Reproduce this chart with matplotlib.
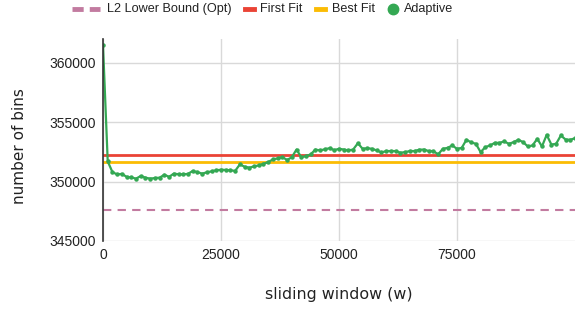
import numpy as np
import matplotlib.pyplot as plt
from matplotlib.lines import Line2D

plt.rcParams.update({'font.family': ['Liberation Sans', 'DejaVu Sans'], 'font.size': 10})

C_OPT, C_FF, C_BF, C_AD = '#c27ba0', '#ea4335', '#fbbc04', '#34a853'
W, H = 575, 316

window = np.arange(0, 100001, 1000)
adaptive = [
    361500, 351700, 350800, 350600, 350650, 350400, 350350, 350250, 350470, 350330,
    350250, 350300, 350330, 350580, 350400, 350670, 350620, 350610, 350650, 350890,
    350800, 350670, 350780, 350860, 350950, 351000, 350980, 350950, 350900, 351450,
    351250, 351170, 351280, 351360, 351500, 351640, 351870, 351950, 352060, 351820,
    352050, 352700, 352050, 352140, 352290, 352700, 352620, 352720, 352810, 352650,
    352760, 352700, 352620, 352700, 353230, 352760, 352810, 352760, 352620, 352450,
    352570, 352570, 352570, 352430, 352480, 352570, 352570, 352680, 352700, 352570,
    352570, 352290, 352760, 352840, 353040, 352760, 352840, 353520, 353300, 353180,
    352480, 352900, 353040, 353260, 353260, 353380, 353180, 353320, 353520, 353320,
    352960, 353040, 353600, 352960, 353930, 353120, 353180, 353880, 353540, 353520,
    353650,
]
first_fit = 352230
best_fit = 351640
l2_bound = 347600

xticks = [0, 25000, 50000, 75000]
yticks = [345000, 350000, 355000, 360000]
labels = ['L2 Lower Bound (Opt)', 'First Fit', 'Best Fit', 'Adaptive']

fig = plt.figure(figsize=(W / 100, H / 100), dpi=100)
ax = fig.add_axes([103 / W, 75 / H, 472 / W, 202 / H])

ax.axhline(l2_bound, color=C_OPT, lw=1.5, ls=(0, (4, 3)))
ax.axhline(first_fit, color=C_FF, lw=2)
ax.axhline(best_fit, color=C_BF, lw=2)
ax.plot(window, adaptive, color=C_AD, lw=1.6, marker='o', ms=2.2)

ax.set_xlim(0, 100000)
ax.set_ylim(345000, 362000)
ax.set_xticks(xticks)
ax.set_xticklabels([str(v) for v in xticks])
ax.set_yticks(yticks)
ax.set_yticklabels([str(v) for v in yticks])
ax.tick_params(length=0, labelsize=10, colors='#222222', pad=5)
ax.grid(True, color='#d9d9d9', lw=1)
ax.set_axisbelow(True)
for s in ['top', 'right', 'bottom']:
    ax.spines[s].set_visible(False)
ax.spines['left'].set_color('#333333')
ax.spines['left'].set_linewidth(1.2)

ax.set_xlabel('sliding window (w)', fontsize=11.4, family='DejaVu Sans', color='#222222', labelpad=18)
ax.set_ylabel('number of bins', fontsize=11, family='DejaVu Sans', color='#222222')
ax.yaxis.set_label_coords(-0.16, 0.47)

# legend drawn by hand, Google-Charts style
def fx(px):
    return px / W

ly = 1 - 9 / H
fig.add_artist(Line2D([fx(72), fx(100)], [ly, ly], color=C_OPT, lw=3.5, ls=(0, (2.3, 1.25)),
                      transform=fig.transFigure))
fig.add_artist(Line2D([fx(245), fx(254)], [ly, ly], color=C_FF, lw=3.5, transform=fig.transFigure))
fig.add_artist(Line2D([fx(316), fx(325)], [ly, ly], color=C_BF, lw=3.5, transform=fig.transFigure))
fig.add_artist(Line2D([fx(393)], [ly], color=C_AD, lw=0, marker='o', ms=7.5, transform=fig.transFigure))
for px, txt in zip([107, 260, 332, 404], labels):
    fig.text(fx(px), ly, txt, fontsize=9.1, color='#222222', va='center', ha='left')

fig.savefig('out.png', dpi=100)
